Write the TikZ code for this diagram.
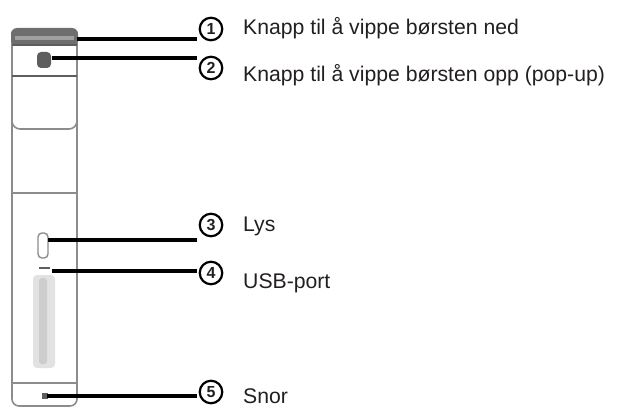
\documentclass[tikz,border=0pt]{standalone}
\usepackage{fontspec}
\setmainfont{Liberation Sans}
\begin{document}
\definecolor{bodygray}{HTML}{8C8C8C}
\definecolor{capgray}{HTML}{6E6E6E}
\definecolor{capstrip}{HTML}{A0A0A0}
\definecolor{partgray}{HTML}{5E5E5E}
\definecolor{barfill}{HTML}{E2E2E2}
\definecolor{barcore}{HTML}{CDCDCD}
\definecolor{textgray}{HTML}{231F20}
\tikzset{
  body/.style={draw=bodygray, line width=1.6pt},
  band/.style={draw=bodygray, line width=2.4pt},
  leader/.style={line width=4.5pt, draw=black},
  num/.style={circle, draw=black, line width=2.2pt, minimum size=22.5pt, inner sep=0pt,
    text=textgray, font=\bfseries\fontsize{16}{16}\selectfont},
  caption/.style={anchor=base west, inner sep=0pt, text=textgray,
    font=\fontsize{21.2}{25}\selectfont}
}
\begin{tikzpicture}[x=1pt, y=-1pt]
  \useasboundingbox (0,0) rectangle (619,417);

  % housing outline
  \draw[body, rounded corners=7pt] (12,32) -- (12,406) -- (77,406) -- (77,32);
  % top cap
  \fill[capgray, rounded corners=6pt] (11,46) -- (11,28) -- (78,28) -- (78,46) -- cycle;
  \fill[capstrip] (15,36) rectangle (74,40);
  \draw[draw=partgray, line width=2pt] (12,45) -- (77,45);
  % upper button
  \fill[partgray, rounded corners=4pt] (37,52) rectangle (51,68);
  % window section
  \draw[draw=partgray, line width=2.6pt] (12,76) -- (77,76);
  \draw[body, rounded corners=8pt] (12,78) -- (12,129) -- (77,129) -- (77,78);
  \draw[band] (12,193) -- (77,193);
  % light
  \draw[draw=bodygray, line width=1.4pt, rounded corners=4pt] (38,233) rectangle (48,258);
  % USB port slot
  \draw[draw=partgray, line width=2pt] (39,268) -- (50,268);
  % sliding bar
  \fill[barfill, rounded corners=4pt] (33,275) rectangle (55,368);
  \fill[barcore, rounded corners=3pt] (39,278) rectangle (47,364);
  % bottom section
  \draw[body] (12,383) -- (77,383);
  \fill[partgray] (42,393) rectangle (48,399);

  % leader start points on the device
  \coordinate (p1) at (77,39);
  \coordinate (p2) at (52,58);
  \coordinate (p3) at (48,240);
  \coordinate (p4) at (52,271);
  \coordinate (p5) at (47,396);

  % numbered markers
  \node[num] (c1) at (211,29) {1};
  \node[num] (c2) at (211,68) {2};
  \node[num] (c3) at (211,225) {3};
  \node[num] (c4) at (211,273) {4};
  \node[num] (c5) at (211,392) {5};

  % leader lines
  \foreach \i in {1,...,5}
    \draw[leader] (p\i) -- ([xshift=-2pt]c\i.west |- p\i);

  % captions
  \node[caption] (t1) at (243,35) {Knapp til å vippe børsten ned};
  \node[caption] (t2) at (243,82) {Knapp til å vippe børsten opp (pop-up)};
  \node[caption] (t3) at (243,232) {Lys};
  \node[caption] (t4) at (243,288) {USB-port};
  \node[caption] (t5) at (243,403) {Snor};
\end{tikzpicture}
\end{document}
